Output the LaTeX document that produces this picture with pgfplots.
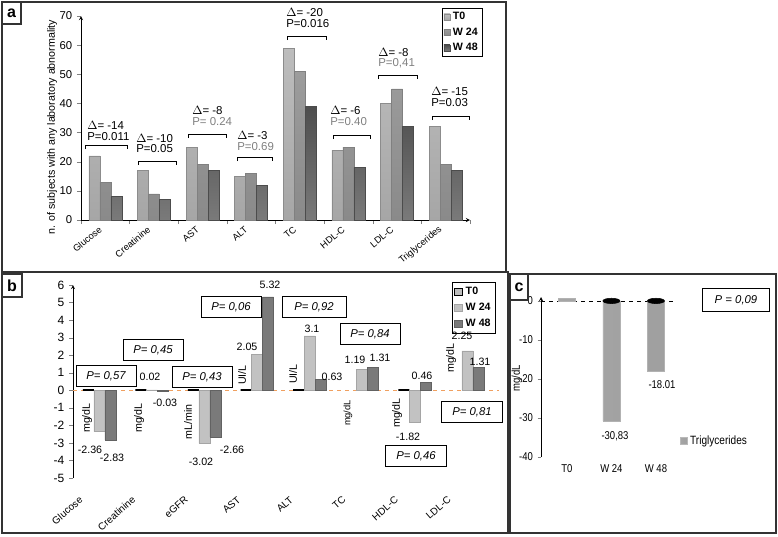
\documentclass[border=0pt]{standalone}
\usepackage{fontspec}
\setmainfont{Liberation Sans}
\newfontfamily\narrow[FakeStretch=0.84]{Liberation Sans}
\usepackage{pgfplots}
\pgfplotsset{compat=1.18}

\definecolor{aT}{HTML}{BDBDBD}
\definecolor{aTb}{HTML}{A6A6A6}
\definecolor{aW}{HTML}{9C9C9C}
\definecolor{aWb}{HTML}{8A8A8A}
\definecolor{aX}{HTML}{4E4E4E}
\definecolor{aXb}{HTML}{7A7A7A}
\definecolor{bW}{HTML}{C2C2C2}
\definecolor{bX}{HTML}{7A7A7A}
\definecolor{frame}{HTML}{333333}
\definecolor{pgray}{HTML}{808080}
\definecolor{zero}{HTML}{F0A060}

\pgfplotsset{
  every axis/.append style={
    /pgf/number format/assume math mode=true,
    tick label style={font=\fontsize{8}{9}\selectfont},
    axis line style={-},
  },
}

\begin{document}
\begin{tikzpicture}

% ---------------- panel a ----------------
\begin{axis}[
  at={(60.75pt,-165pt)}, anchor=south west, scale only axis,
  width=291.75pt, height=153pt,
  xmin=-0.5, xmax=7.5, ymin=0, ymax=70,
  axis lines=left, clip=false,
  ybar=0pt, bar width=8.25pt,
  ytick={0,10,...,70},
  yticklabel style={font=\fontsize{8.5}{9}\selectfont},
  xtick={0,...,7},
  xticklabels={Glucose,Creatinine,AST,ALT,TC,HDL-C,LDL-C,Triglycerides},
  xticklabel style={xshift=-1pt, yshift=-1pt, rotate=40, anchor=east, font=\fontsize{7}{8}\selectfont},
  minor xtick={-0.5,0.5,...,7.5},
  major x tick style={draw=none},
  tick align=outside, tick pos=left,
  major tick length=3pt, minor tick length=3pt,
  legend style={at={(0.928,1.039)}, anchor=north west, draw=black,
    font=\bfseries\fontsize{8}{10}\selectfont, inner sep=1pt, row sep=0.5pt},
  legend cell align=left,
  legend image code/.code={\fill[#1] (0pt,-2.3pt) rectangle (4.6pt,2.3pt);},
]
\addplot[top color=aT, bottom color=aTb, draw=black!45] coordinates
  {(0,22) (1,17) (2,25) (3,15) (4,59) (5,24) (6,40) (7,32)};
\addplot[top color=aW, bottom color=aWb, draw=black!50] coordinates
  {(0,13) (1,9) (2,19) (3,16) (4,51) (5,25) (6,45) (7,19)};
\addplot[top color=aX, bottom color=aXb, draw=black!70] coordinates
  {(0,8) (1,7) (2,17) (3,12) (4,39) (5,18) (6,32) (7,17)};
\legend{T0,W 24,W 48}
\end{axis}

% ---------------- panel b ----------------
\begin{axis}[
  at={(54.75pt,-358.5pt)}, anchor=south west, scale only axis,
  width=319.5pt, height=144.75pt,
  xmin=-0.5, xmax=7.6, ymin=-5, ymax=6,
  axis lines=left, x axis line style={draw=none}, clip=false,
  ybar=0pt, bar width=8.25pt,
  ytick={-5,...,6},
  yticklabel style={font=\fontsize{9}{10}\selectfont},
  xtick={0,...,7},
  xticklabels={Glucose,Creatinine,eGFR,AST,ALT,TC,HDL-C,LDL-C},
  xticklabel style={xshift=-11pt, yshift=-10pt, rotate=41, anchor=east, font=\fontsize{7.5}{9}\selectfont},
  major x tick style={draw=none},
  tick align=outside, ytick pos=left,
  major tick length=3pt,
  legend style={at={(0.89,1.016)}, anchor=north west, draw=black,
    font=\bfseries\fontsize{8}{10}\selectfont, inner sep=1.5pt, row sep=1pt},
  legend cell align=left,
  legend image code/.code={\draw[#1, line width=0.5pt] (0pt,-2.5pt) rectangle (6pt,2.5pt);},
]
\draw[zero, dashed, thick] (axis cs:-0.5,0) -- (axis cs:7.6,0);
\addplot[fill=aT, draw=black, line width=1.6pt] coordinates
  {(0,0) (1,0) (2,0) (3,0) (4,0) (6,0)};
\addplot[fill=bW, draw=bW!85!black] coordinates
  {(0,-2.36) (1,0.02) (2,-3.02) (3,2.05) (4,3.1) (5,1.19) (6,-1.82) (7,2.25)};
\addplot[fill=bX, draw=bX!80!black] coordinates
  {(0,-2.83) (1,-0.03) (2,-2.66) (3,5.32) (4,0.63) (5,1.31) (6,0.46) (7,1.31)};
\legend{T0,W 24,W 48}
\end{axis}

% ---------------- panel c ----------------
\begin{axis}[
  at={(405.75pt,-342.75pt)}, anchor=south west, scale only axis,
  width=101.25pt, height=120pt,
  xmin=-0.58, xmax=2.45, ymin=-40, ymax=1,
  axis lines=left, x axis line style={draw=none}, clip=false,
  ytick={-40,-30,...,0},
  xtick={0,1,2},
  xticklabels={T0,W 24,W 48},
  tick label style={font=\narrow\fontsize{8.5}{9}\selectfont},
  major x tick style={draw=none},
  tick align=outside, ytick pos=left,
  major tick length=2.5pt,
  legend style={at={(1.03,0.1)}, anchor=west, draw=none, fill=none,
    font=\narrow\fontsize{9}{10}\selectfont, inner sep=0pt},
  legend image code/.code={\fill[gray!55] (0pt,-2.5pt) rectangle (5pt,2.5pt);},
]
\draw[black, dashed] (axis cs:-0.58,0) -- (axis cs:2.45,0);
\addplot[ybar, bar width=12.75pt, left color=gray!70, middle color=gray!30, right color=gray!75, draw=gray!60]
  coordinates {(0,0.6) (1,-30.83) (2,-18.01)};
\addlegendentry{Triglycerides}
\addplot[only marks, mark=*, mark size=2pt, mark options={xscale=3.2, fill=black, draw=black}, forget plot]
  coordinates {(1,0) (2,0)};
\end{axis}

% ---------------- frames and annotations (pixel coordinates) ----------------
\begin{scope}[x=0.75pt, y=-0.75pt]
  \draw[frame, line width=0.9pt] (2,2) rectangle (506,272);
  \draw[frame, line width=0.9pt] (2,272) rectangle (508,533);
  \draw[frame, line width=0.9pt] (510,274) rectangle (776,533);
  \draw[frame, line width=0.9pt] (2,2) rectangle (21,24);
  \draw[frame, line width=0.9pt] (2,274) rectangle (22,297);
  \draw[frame, line width=0.9pt] (510,274) rectangle (528,300);
  \node[font=\bfseries\fontsize{12}{12}\selectfont] at (11.5,13) {a};
  \node[font=\bfseries\fontsize{12}{12}\selectfont] at (12,285.5) {b};
  \node[font=\bfseries\fontsize{12}{12}\selectfont] at (519,287) {c};

  % panel a y label
  \node[rotate=90, font=\fontsize{8}{9}\selectfont] at (52,127) {n. of subjects with any laboratory abnormality};

  % panel a brackets and texts
  \tikzset{br/.style={line width=0.6pt}, tx/.style={anchor=west, inner sep=0pt, font=\fontsize{8.6}{9}\selectfont}}
  \foreach \xa/\xb/\yy in {85/127/145, 138/176/161, 188/226/134, 237/272/157, 287/326/36, 333/370/135, 378/417/75, 432/469/116}
    \draw[br] (\xa,\yy+4) -- (\xa,\yy) -- (\xb,\yy) -- (\xb,\yy+4);
  \node[tx] at (87,125) {$\Delta$= -14};   \node[tx] at (87,137) {P=0.011};
  \node[tx] at (136,138) {$\Delta$= -10};  \node[tx] at (136,149) {P=0.05};
  \node[tx] at (192,110) {$\Delta$= -8};   \node[tx, pgray] at (192,122) {P= 0.24};
  \node[tx] at (237,135) {$\Delta$= -3};   \node[tx, pgray] at (237,147) {P=0.69};
  \node[tx] at (286,12) {$\Delta$= -20};   \node[tx] at (286,24) {P=0.016};
  \node[tx] at (330,110) {$\Delta$= -6};   \node[tx, pgray] at (330,122) {P=0.40};
  \node[tx] at (378,52) {$\Delta$= -8};    \node[tx, pgray] at (378,63) {P=0,41};
  \node[tx] at (431,91) {$\Delta$= -15};   \node[tx] at (431,103) {P=0.03};

  % panel b value labels
  \tikzset{vl/.style={inner sep=0pt, font=\fontsize{8}{9}\selectfont}}
  \node[vl] at (90,450) {-2.36};  \node[vl] at (112,458) {-2.83};
  \node[vl] at (150,377) {0.02};  \node[vl] at (165,403) {-0.03};
  \node[vl] at (201,462) {-3.02}; \node[vl] at (232,450) {-2.66};
  \node[vl] at (247,347) {2.05};  \node[vl] at (270,285) {5.32};
  \node[vl] at (312,329) {3.1};   \node[vl] at (332,377) {0.63};
  \node[vl] at (355,360) {1.19};  \node[vl] at (380,358) {1.31};
  \node[vl] at (408,437) {-1.82}; \node[vl] at (422,376) {0.46};
  \node[vl] at (462,336) {2.25};  \node[vl] at (480,362) {1.31};

  % panel b units
  \tikzset{un/.style={rotate=90, inner sep=0pt, font=\fontsize{8}{9}\selectfont}}
  \node[un] at (87,418) {mg/dL};
  \node[un] at (139,418) {mg/dL};
  \node[un] at (188,422) {mL/min};
  \node[un] at (242,375) {UI/L};
  \node[un] at (293,374) {UI/L};
  \node[un, font=\fontsize{7}{8}\selectfont] at (348,413) {mg/dL};
  \node[un] at (397,413) {mg/dL};
  \node[un] at (451,358) {mg/dL};

  % panel b P boxes
  \tikzset{pb/.style={draw=black, line width=0.6pt, fill=white, minimum width=45pt, minimum height=15.5pt, inner sep=0pt, font=\itshape\fontsize{8.5}{9}\selectfont}}
  \node[pb] at (106,376) {P= 0,57};
  \node[pb] at (153,350) {P= 0,45};
  \node[pb] at (202,377) {P= 0,43};
  \node[pb] at (231,307) {P= 0,06};
  \node[pb, minimum width=48pt] at (314,307) {P= 0,92};
  \node[pb] at (370,334) {P= 0,84};
  \node[pb, minimum width=46pt] at (416,456) {P= 0,46};
  \node[pb, minimum width=46pt] at (472,412) {P= 0,81};

  % panel c
  \node[rotate=90, font=\narrow\fontsize{8.5}{9}\selectfont] at (517,378) {mg/dL};
  \node[inner sep=0pt, font=\narrow\fontsize{8.5}{9}\selectfont] at (615,436) {-30,83};
  \node[inner sep=0pt, font=\narrow\fontsize{8.5}{9}\selectfont] at (662,385) {-18.01};
  \node[pb, minimum width=50pt, minimum height=17pt] at (736,300) {P = 0,09};
\end{scope}

\pgfresetboundingbox
\useasboundingbox (0pt,0pt) rectangle (583.5pt,-402pt);
\end{tikzpicture}
\end{document}
